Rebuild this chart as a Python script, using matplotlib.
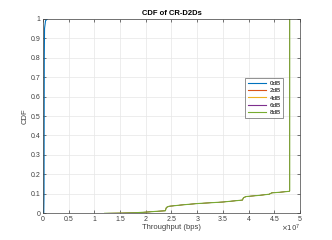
import matplotlib.pyplot as plt
import numpy as np

# throughput in units of 1e7 bps
x_0db = [0.015, 0.02, 0.022, 0.025, 0.03, 0.05, 0.09]
y_0db = [0.0, 0.1, 0.4, 0.8, 0.95, 0.99, 1.0]

x_8db = [1.2, 1.5, 1.8, 2.0, 2.2, 2.38, 2.4, 2.45, 2.7, 3.0, 3.5, 3.88, 3.9, 3.95,
         4.2, 4.4, 4.45, 4.6, 4.79, 4.8, 4.8]
y_8db = [0.0, 0.001, 0.003, 0.006, 0.01, 0.013, 0.03, 0.036, 0.043, 0.05, 0.058,
         0.068, 0.08, 0.086, 0.092, 0.098, 0.105, 0.108, 0.113, 0.115, 1.0]

labels = ['0dB', '2dB', '4dB', '6dB', '8dB']
colors = ['#0072BD', '#D95319', '#EDB120', '#7E2F8E', '#77AC30']

# 2, 4 and 6 dB overlap the 8 dB curve
series = [(x_0db, y_0db), (x_8db, y_8db), (x_8db, y_8db), (x_8db, y_8db), (x_8db, y_8db)]
widths = [0.8, 0.4, 0.4, 0.4, 0.8]

plt.rcParams['font.family'] = ['Liberation Sans', 'DejaVu Sans']
fig = plt.figure(figsize=(3.32, 2.4), dpi=100)
ax = fig.add_axes([43 / 332, 1 - 213.3 / 240, 257 / 332, 194.6 / 240])

lines = []
for (xs, ys), lab, c, w in zip(series, labels, colors, widths):
    ln, = ax.plot(np.array(xs) * 1e7, ys, color=c, lw=w, label=lab)
    lines.append(ln)

ax.set_xlim(0, 5e7)
ax.set_ylim(0, 1)
ax.set_xticks(np.arange(0, 5.01, 0.5) * 1e7)
ax.set_xticklabels(['0', '0.5', '1', '1.5', '2', '2.5', '3', '3.5', '4', '4.5', '5'])
ax.set_yticks(np.arange(0, 1.01, 0.1))
ax.set_yticklabels(['0', '0.1', '0.2', '0.3', '0.4', '0.5', '0.6', '0.7', '0.8', '0.9', '1'])
ax.tick_params(direction='in', labelsize=5, length=2, width=0.5, colors='#404040',
               top=True, right=True, pad=2)
ax.grid(True, color='#e6e6e6', lw=0.5)
ax.set_axisbelow(True)
for s in ax.spines.values():
    s.set_color('#404040')
    s.set_linewidth(0.5)

ax.set_title('CDF of CR-D2Ds', fontsize=5.5, fontweight='bold', pad=3)
ax.set_xlabel('Throughput (bps)', fontsize=5.5, labelpad=1, color='#404040')
ax.set_ylabel('CDF', fontsize=5.5, labelpad=1, color='#404040')
ax.text(1.0, -0.05, r'$\times10^7$', transform=ax.transAxes, fontsize=5,
        ha='right', va='top', color='#404040')

leg = ax.legend(loc='upper left', bbox_to_anchor=(0.774, 0.71), fontsize=4.5,
                frameon=True, fancybox=False, edgecolor='#404040', handlelength=3,
                borderpad=0.4, labelspacing=0.3, handletextpad=0.5)
leg.get_frame().set_linewidth(0.5)
for h in leg.get_lines():
    h.set_linewidth(0.8)

fig.savefig('out.png', dpi=100)
